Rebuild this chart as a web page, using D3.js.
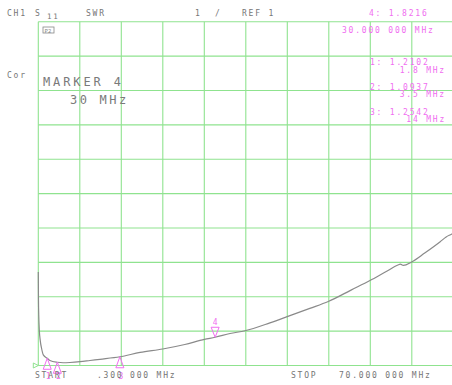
<!DOCTYPE html>
<html><head><meta charset="utf-8">
<script src="https://cdn.jsdelivr.net/npm/d3@7"></script>
<style>
html,body{margin:0;padding:0;background:#fff;}
svg{display:block;}
text{font-family:"DejaVu Sans Mono",monospace;}
</style></head>
<body>
<script>
// ---- data ----
const freqMHz = [0.3,0.33,0.38,0.47,0.64,0.87,1.14,1.8,2.26,3.5,4.45,5.62,7.3,8.98,10.66,14,17.4,21.2,24.9,28.2,30,32.5,35.0,39.2,42.1,45.9,49.0,52.9,56.0,58.5,60.8,61.1,61.6,63.0,65.2,67.8,68.8,69.7,70];
const swr     = [3.72,2.9,2.44,2.03,1.71,1.48,1.31,1.2102,1.145,1.0937,1.08,1.087,1.11,1.145,1.18,1.2542,1.38,1.48,1.61,1.76,1.8216,1.93,2.01,2.24,2.42,2.66,2.86,3.20,3.47,3.71,3.93,3.95,3.91,4.01,4.27,4.60,4.74,4.82,4.85];
const markerIds   = ["1","2","3","4"];
const markerFreq  = [1.8,3.5,14,30];
const markerSwr   = [1.2102,1.0937,1.2542,1.8216];
const markerFreqLabels = ["1.8 MHz","3.5 MHz","14 MHz","30.000 000 MHz"];
const yDomain = [1, 11];
const xDomain = [0.3, 70];
const divisions = 10;

const W = 452, H = 385;
const svg = d3.select("body").append("svg").attr("width", W).attr("height", H);

const x = d3.scaleLinear().domain(xDomain).range([38.3, 453.3]);
const y = d3.scaleLinear().domain(yDomain).range([365.5, 21.7]);

const green = "#8fe38f", gray = "#767676", mag = "#f06ef0";

// grid
const xt = d3.range(divisions + 1).map(i => xDomain[0] + i * (xDomain[1] - xDomain[0]) / divisions);
const yt = d3.range(divisions + 1).map(i => yDomain[0] + i * (yDomain[1] - yDomain[0]) / divisions);
const g = svg.append("g");
g.selectAll("line.v").data(xt).join("line")
  .attr("x1", d => x(d)).attr("x2", d => x(d)).attr("y1", y(yDomain[1])).attr("y2", y(yDomain[0]))
  .attr("stroke", green).attr("stroke-width", 1.1);
g.selectAll("line.h").data(yt).join("line")
  .attr("x1", x(xDomain[0])).attr("x2", x(xDomain[1])).attr("y1", d => y(d)).attr("y2", d => y(d))
  .attr("stroke", green).attr("stroke-width", 1.1);

// reference marker
const r0 = y(yDomain[0]);
svg.append("path").attr("d", `M${x(xDomain[0])-5},${r0-2.5}L${x(xDomain[0])},${r0}L${x(xDomain[0])-5},${r0+2.5}Z`)
  .attr("fill", "none").attr("stroke", green).attr("stroke-width", 1);

// trace
const pts = freqMHz.map((f, i) => [f, swr[i]]);
svg.append("path").datum(pts)
  .attr("d", d3.line().x(d => x(d[0])).y(d => y(d[1])).curve(d3.curveMonotoneX))
  .attr("fill", "none").attr("stroke", "#8a8a8a").attr("stroke-width", 1.2);

// markers
markerIds.forEach((id, i) => {
  const mx = x(markerFreq[i]), my = y(markerSwr[i]);
  if (id === "4") {
    svg.append("path").attr("d", `M${mx},${my}L${mx-4},${my-10}L${mx+4},${my-10}Z`)
      .attr("fill", "none").attr("stroke", mag).attr("stroke-width", 1);
    svg.append("text").attr("x", mx).attr("y", my - 12).attr("text-anchor", "middle")
      .attr("font-size", 8).attr("fill", mag).text(id);
  } else {
    svg.append("path").attr("d", `M${mx},${my}L${mx-4},${my+11}L${mx+4},${my+11}Z`)
      .attr("fill", "none").attr("stroke", mag).attr("stroke-width", 1);
    svg.append("text").attr("x", mx + 1).attr("y", 379).attr("text-anchor", "middle")
      .attr("font-size", 8).attr("fill", mag).text(id);
  }
});

function txt(t, tx, ty, opts = {}) {
  return svg.append("text").attr("x", tx).attr("y", ty)
    .attr("font-size", opts.size || 8)
    .attr("letter-spacing", opts.ls != null ? opts.ls : 1.8)
    .attr("fill", opts.fill || gray)
    .attr("text-anchor", opts.anchor || "start")
    .text(t);
}

// header
txt("CH1", 7, 16);
txt("S", 35, 16);
txt("11", 47, 18.5, {size: 7.5, ls: 1.8});
txt("SWR", 86, 16);
txt("1", 195, 16);
txt("/", 215, 16);
txt("REF " + yDomain[0], 242, 16);
txt("Cor", 7, 78);

// icon
svg.append("rect").attr("x", 43).attr("y", 27).attr("width", 11).attr("height", 6)
  .attr("fill", "none").attr("stroke", "#888").attr("stroke-width", 0.8);
txt("P2", 44.5, 32.5, {size: 5.5, ls: 0.3, fill: "#888"});

// marker 4 big
txt("MARKER " + markerIds[3], 43, 86, {size: 12, ls: 2.9, fill: "#7a7a7a"});
txt(String(markerFreq[3]) + " MHz", 70, 103.5, {size: 12, ls: 2.6, fill: "#7a7a7a"});

// readouts
txt(markerIds[3] + ": " + markerSwr[3].toFixed(4), 369, 16, {fill: mag});
txt(markerFreqLabels[3], 342, 32.5, {fill: mag});
const ry = [65, 89.5, 114.5];
[0, 1, 2].forEach(i => {
  txt(markerIds[i] + ": " + markerSwr[i].toFixed(4), 370, ry[i], {fill: mag});
  txt(markerFreqLabels[i], 446, ry[i] + 7.5, {fill: mag, anchor: "end"});
});

// footer
txt("START", 35, 377.5);
txt(".300 000 MHz", 97, 377.5);
txt("STOP", 291, 377.5);
txt("70.000 000 MHz", 339, 377.5);
</script>
</body></html>
